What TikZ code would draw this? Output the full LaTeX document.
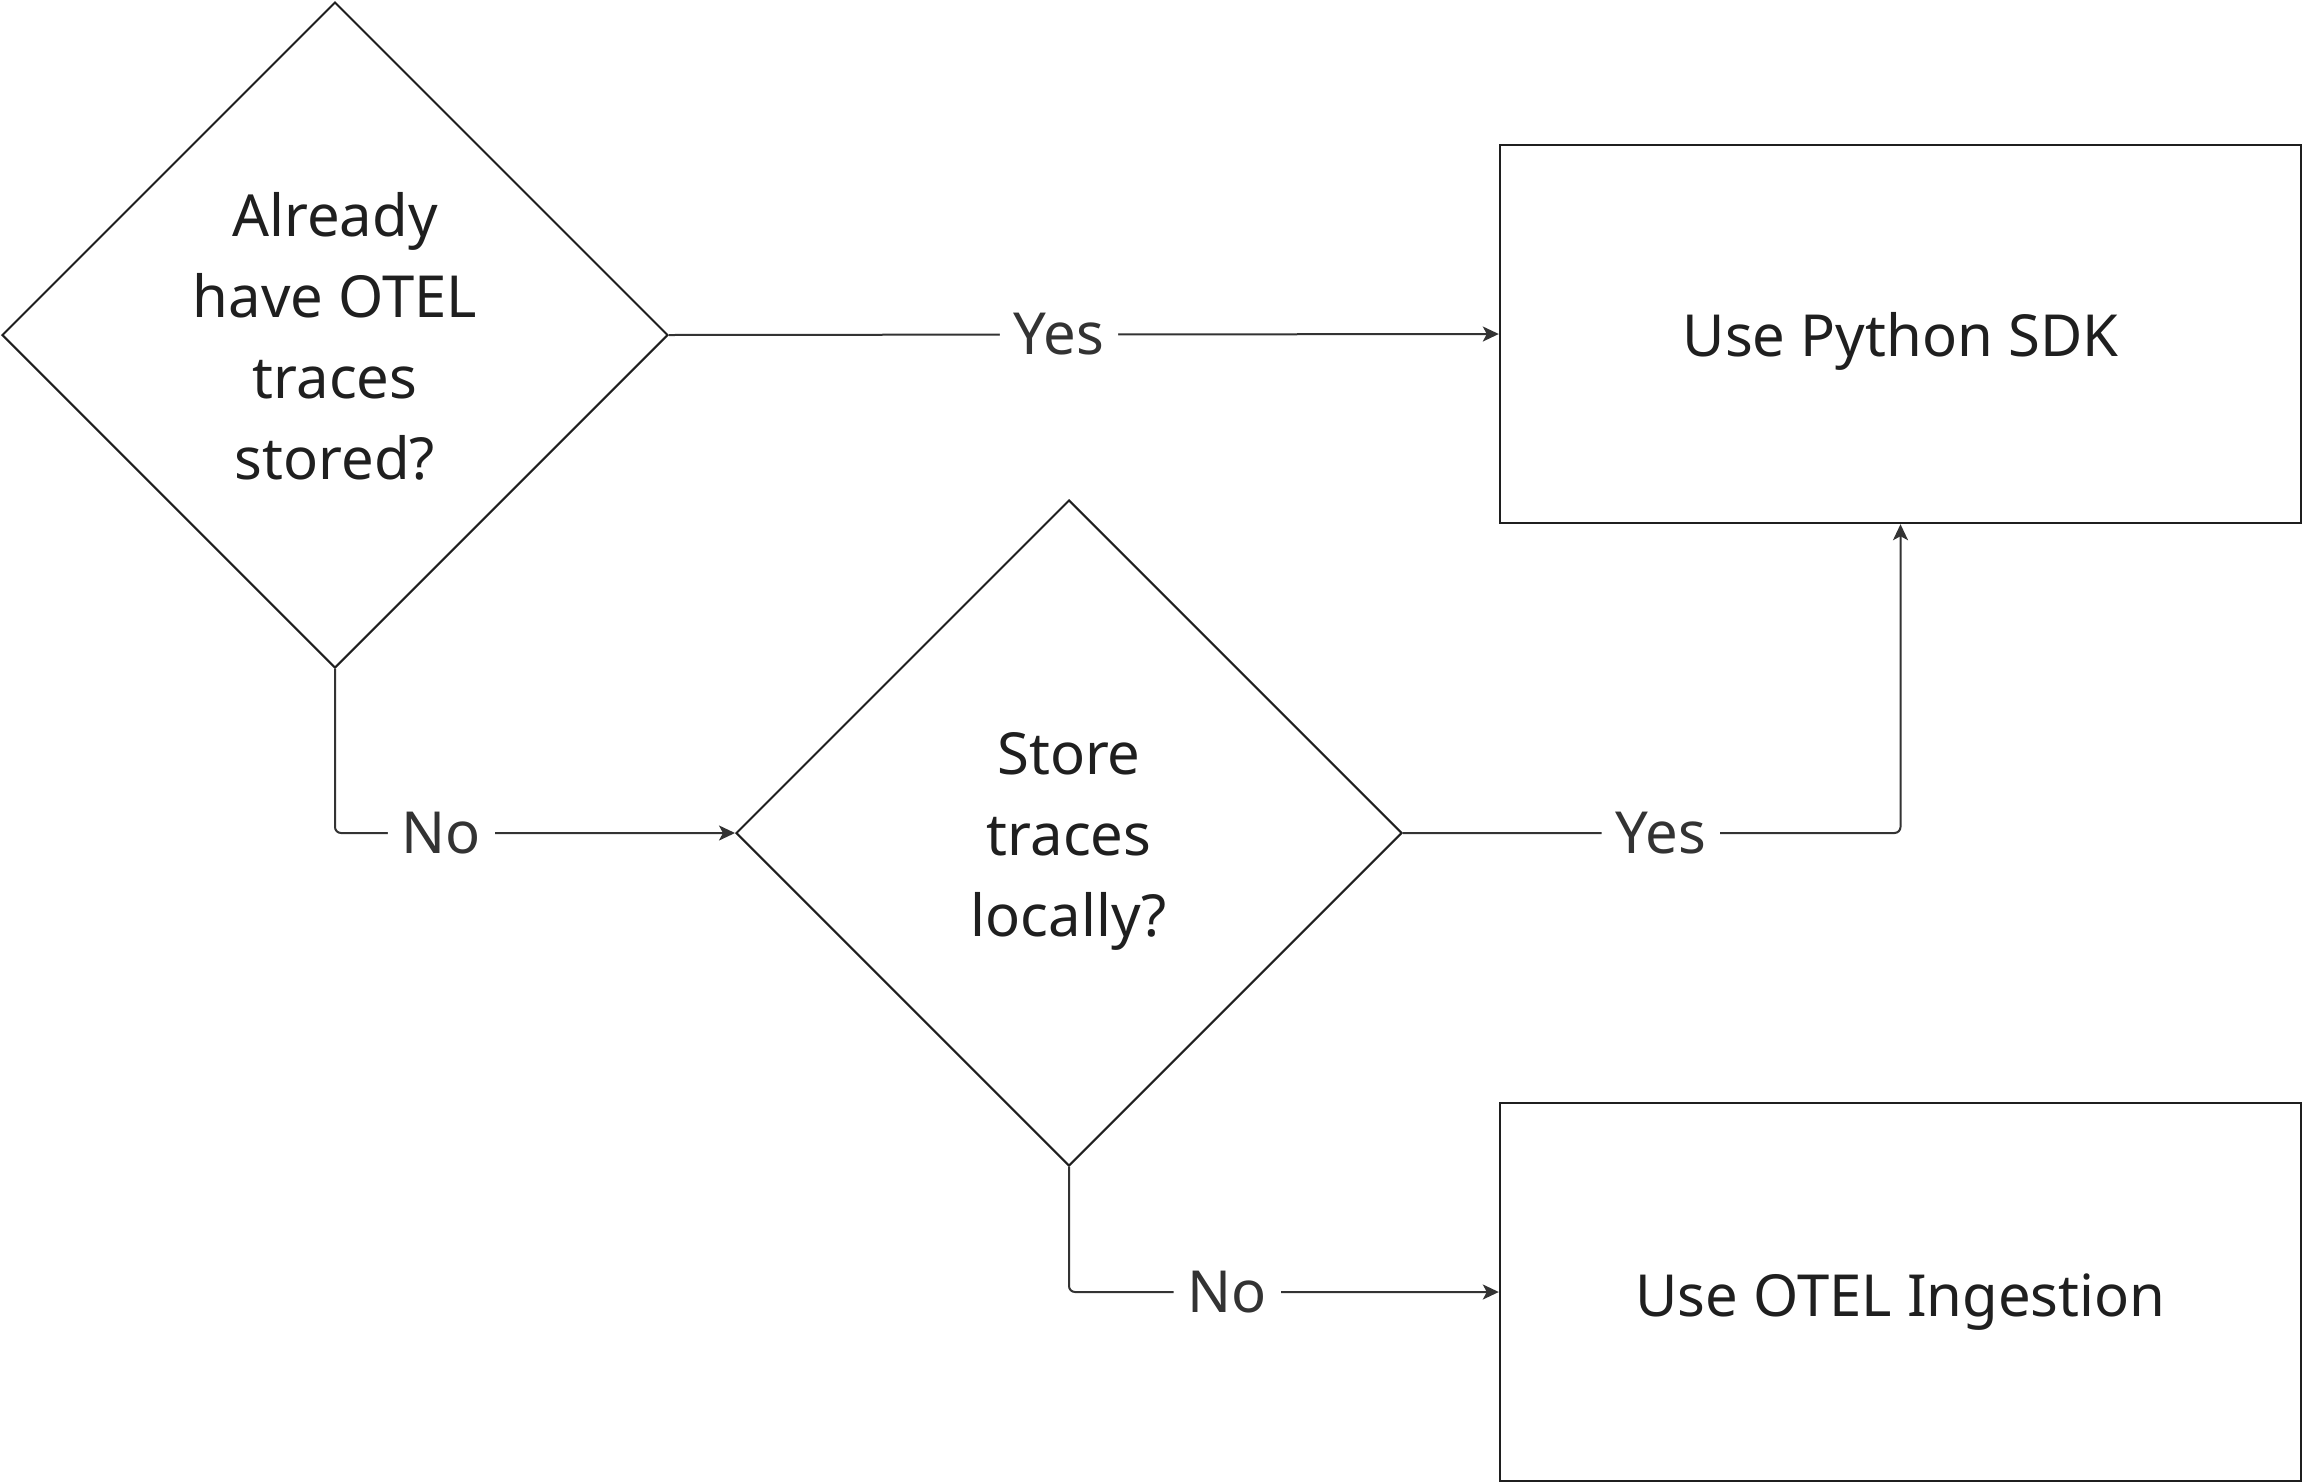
\documentclass[tikz,border=0pt]{standalone}
\usepackage{fontspec}
\setmainfont{Noto Sans}
\usetikzlibrary{shapes.geometric,arrows.meta}
\definecolor{edgecol}{HTML}{333333}
\definecolor{txtcol}{HTML}{1F1F1F}
\newcommand{\topgap}[1]{\rule{0pt}{#1}}
\tikzset{
  dia/.style={shape=diamond, draw=txtcol, line width=1pt, aspect=1, inner sep=0pt,
    minimum width=333pt, minimum height=333pt, align=center, text=txtcol,
    font=\fontsize{29}{40.5}\selectfont},
  box/.style={shape=rectangle, draw=txtcol, line width=1.2pt, inner sep=0pt,
    minimum width=400.5pt, minimum height=189pt, align=center, text=txtcol,
    font=\fontsize{29}{40.5}\selectfont},
  conn/.style={draw=edgecol, line width=1pt, rounded corners=3pt,
    -{Stealth[length=8pt,width=7.5pt,inset=2pt]}},
  lbl/.style={fill=white, text=edgecol, inner xsep=7pt, inner ysep=2pt,
    font=\fontsize{29}{35}\selectfont}
}
\begin{document}
\begin{tikzpicture}[x=0.5pt,y=-0.5pt]
\useasboundingbox (0,0) rectangle (2304,1484);
\node[dia] (d1) at (335,335) {\topgap{23.4pt}Already\\have OTEL\\traces\\stored?};
\node[box] (r1) at (1900.5,334) {\topgap{29.4pt}Use Python SDK};
\node[dia] (d2) at (1069,833) {\topgap{29pt}Store\\traces\\locally?};
\node[box] (r2) at (1900.5,1292) {\topgap{31pt}Use OTEL Ingestion};
\draw[conn] (d1.east) -- node[lbl,pos=0.47] {Yes} (r1.west);
\draw[conn] (d1.south) |- node[lbl,pos=0.633] {No} (d2.west);
\draw[conn] (d2.east) -| node[lbl,pos=0.259] {Yes} (r1.south);
\draw[conn] (d2.south) |- node[lbl,pos=0.684] {No} (r2.west);
\end{tikzpicture}
\end{document}
